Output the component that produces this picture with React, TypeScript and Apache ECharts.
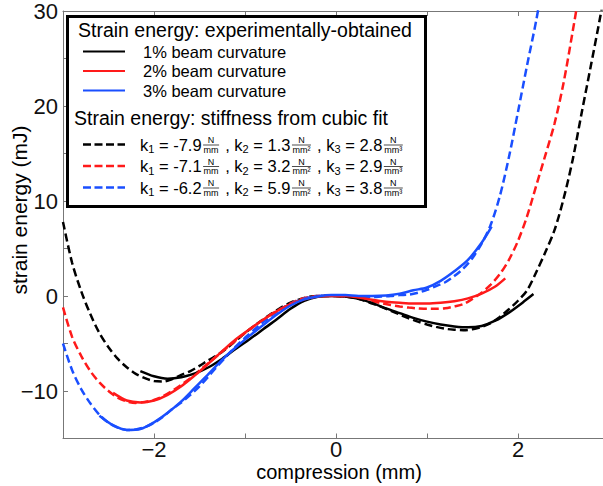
import React, { useEffect, useRef } from 'react';
import * as echarts from 'echarts';

const FF = '"Liberation Sans", Arial, Helvetica, sans-serif';

// experimental curves [compression mm, strain energy mJ]
const exp1: number[][] = [[-2.15,-7.9],[-2.0,-8.45],[-1.85,-8.7],[-1.7,-8.55],[-1.55,-8.15],[-1.4,-7.5],[-1.25,-6.6],[-1.1,-5.55],[-0.95,-4.55],[-0.8,-3.5],[-0.65,-2.45],[-0.5,-1.35],[-0.35,-0.5],[-0.2,-0.08],[-0.05,0],[0.1,-0.05],[0.25,-0.3],[0.4,-0.75],[0.55,-1.3],[0.7,-1.8],[0.85,-2.3],[1.0,-2.7],[1.15,-3.0],[1.3,-3.2],[1.45,-3.3],[1.6,-3.15],[1.75,-2.6],[1.9,-1.75],[2.05,-0.7],[2.17,0.2]];
const exp2: number[][] = [[-2.45,-10.2],[-2.3,-11.0],[-2.15,-11.2],[-2.0,-11.0],[-1.85,-10.4],[-1.7,-9.5],[-1.55,-8.35],[-1.4,-7.1],[-1.25,-5.8],[-1.1,-4.55],[-0.95,-3.5],[-0.8,-2.5],[-0.65,-1.6],[-0.5,-0.85],[-0.35,-0.35],[-0.2,-0.05],[-0.05,0],[0.1,0],[0.25,-0.15],[0.4,-0.4],[0.55,-0.6],[0.7,-0.72],[0.85,-0.8],[1.0,-0.8],[1.15,-0.72],[1.3,-0.55],[1.45,-0.25],[1.6,0.25],[1.75,1.0],[1.86,1.85]];
const exp3: number[][] = [[-2.6,-12.6],[-2.45,-13.6],[-2.3,-14.1],[-2.15,-14.0],[-2.0,-13.3],[-1.85,-12.3],[-1.7,-11.1],[-1.55,-9.65],[-1.4,-8.2],[-1.25,-6.7],[-1.1,-5.4],[-0.95,-4.2],[-0.8,-3.05],[-0.65,-1.95],[-0.5,-1.0],[-0.35,-0.35],[-0.2,-0.05],[-0.05,0.1],[0.1,0.1],[0.25,0.0],[0.4,0.0],[0.55,0.05],[0.7,0.25],[0.85,0.6],[1.0,0.9],[1.15,1.6],[1.3,2.6],[1.45,3.8],[1.6,5.6],[1.71,7.3]];

// cubic-fit curves
const fit1: number[][] = [[-3.0,7.8],[-2.9,3.5],[-2.8,0.5],[-2.7,-1.9],[-2.6,-3.9],[-2.5,-5.4],[-2.4,-6.6],[-2.3,-7.5],[-2.2,-8.2],[-2.1,-8.65],[-2.0,-8.95],[-1.9,-9.0],[-1.8,-8.75],[-1.7,-8.3],[-1.6,-7.9],[-1.5,-7.35],[-1.4,-6.75],[-1.3,-6.2],[-1.2,-5.5],[-1.1,-4.7],[-1.0,-3.9],[-0.9,-3.15],[-0.8,-2.45],[-0.7,-1.8],[-0.6,-1.2],[-0.5,-0.7],[-0.4,-0.35],[-0.3,-0.1],[-0.2,0],[-0.1,0],[0,0],[0.1,-0.05],[0.2,-0.2],[0.3,-0.45],[0.4,-0.8],[0.5,-1.15],[0.6,-1.55],[0.7,-1.95],[0.8,-2.35],[0.9,-2.7],[1.0,-3.0],[1.1,-3.25],[1.2,-3.45],[1.3,-3.55],[1.4,-3.6],[1.5,-3.5],[1.6,-3.25],[1.7,-2.85],[1.8,-2.2],[1.9,-1.4],[2.0,-0.5],[2.1,0.6],[2.2,2.5],[2.3,4.6],[2.4,6.9],[2.5,10.2],[2.6,14.3],[2.7,19.3],[2.8,24.2],[2.9,29.2],[3.0,34.5]];
const fit2: number[][] = [[-3.0,-1.2],[-2.9,-4.3],[-2.8,-6.3],[-2.7,-7.9],[-2.6,-9.1],[-2.5,-10.0],[-2.4,-10.7],[-2.3,-11.1],[-2.2,-11.25],[-2.1,-11.15],[-2.0,-10.95],[-1.9,-10.55],[-1.8,-10.0],[-1.7,-9.35],[-1.6,-8.65],[-1.5,-7.85],[-1.4,-7.05],[-1.3,-6.25],[-1.2,-5.45],[-1.1,-4.65],[-1.0,-3.9],[-0.9,-3.15],[-0.8,-2.5],[-0.7,-1.85],[-0.6,-1.3],[-0.5,-0.8],[-0.4,-0.35],[-0.3,-0.12],[-0.2,0],[-0.1,0.05],[0,0],[0.1,-0.05],[0.2,-0.15],[0.3,-0.35],[0.4,-0.55],[0.5,-0.75],[0.6,-0.95],[0.7,-1.1],[0.8,-1.22],[0.9,-1.3],[1.0,-1.35],[1.1,-1.35],[1.2,-1.3],[1.3,-1.1],[1.4,-0.85],[1.5,-0.3],[1.6,0.35],[1.7,1.2],[1.8,2.3],[1.9,3.8],[2.0,5.8],[2.1,8.4],[2.2,11.6],[2.3,14.8],[2.4,18.1],[2.5,22.4],[2.6,27.8],[2.7,33.5]];
const fit3: number[][] = [[-3.0,-5.0],[-2.9,-7.8],[-2.8,-9.8],[-2.7,-11.3],[-2.6,-12.5],[-2.5,-13.35],[-2.4,-13.85],[-2.3,-14.1],[-2.2,-14.05],[-2.1,-13.8],[-2.0,-13.35],[-1.9,-12.7],[-1.8,-11.9],[-1.7,-11.2],[-1.6,-10.4],[-1.5,-9.5],[-1.4,-8.45],[-1.3,-7.35],[-1.2,-6.3],[-1.1,-5.3],[-1.0,-4.4],[-0.9,-3.55],[-0.8,-2.75],[-0.7,-2.0],[-0.6,-1.35],[-0.5,-0.85],[-0.4,-0.45],[-0.3,-0.15],[-0.2,0],[-0.1,0.05],[0,0.05],[0.1,0],[0.2,-0.05],[0.3,-0.1],[0.4,-0.1],[0.5,-0.05],[0.6,0.0],[0.7,0.1],[0.8,0.15],[0.9,0.35],[1.0,0.65],[1.1,1.05],[1.2,1.45],[1.3,2.1],[1.4,2.9],[1.5,4.0],[1.6,5.5],[1.7,7.5],[1.8,10.5],[1.9,14.6],[2.0,19.4],[2.1,24.3],[2.2,29.0],[2.3,34.5]];

const colors = ['#000000', '#ff1a1a', '#1a4fff'];
const expLabels = ['1% beam curvature', '2% beam curvature', '3% beam curvature'];
const k1Vals = ['-7.9', '-7.1', '-6.2'];
const k2Vals = ['1.3', '3.2', '5.9'];
const k3Vals = ['2.8', '2.9', '3.8'];
const legendTitle1 = 'Strain energy: experimentally-obtained';
const legendTitle2 = 'Strain energy: stiffness from cubic fit';
const xName = 'compression (mm)';
const yName = 'strain energy (mJ)';

const fmtNum = (v: number) => (v < 0 ? '\u2212' + Math.abs(v) : String(v));

let ctx: CanvasRenderingContext2D | null = null;
function measure(s: string, size: number): number {
  if (!ctx) ctx = document.createElement('canvas').getContext('2d');
  if (!ctx) return s.length * size * 0.5;
  ctx.font = `${size}px ${FF}`;
  return ctx.measureText(s).width;
}

function txt(x: number, y: number, text: string, size: number, align = 'left', extra: any = {}) {
  return {
    type: 'text', x, y, z: 11, ...extra,
    style: { text, font: `${size}px ${FF}`, fill: '#000', textAlign: align, textVerticalAlign: 'middle' },
  };
}

function buildLegend(): any[] {
  const els: any[] = [];
  els.push({ type: 'rect', z: 10, shape: { x: 67.5, y: 16.5, width: 358, height: 190 }, style: { fill: '#fff', stroke: '#000', lineWidth: 3 } });
  els.push(txt(78, 30, legendTitle1, 19.5));
  const itemY = [51.5, 71, 90.5];
  expLabels.forEach((lab, i) => {
    els.push({ type: 'line', z: 11, shape: { x1: 83, y1: itemY[i], x2: 125, y2: itemY[i] }, style: { stroke: colors[i], lineWidth: 2 } });
    els.push(txt(143, itemY[i], lab, 16.5));
  });
  els.push(txt(74, 117.5, legendTitle2, 19.5));
  const rowY = [144.5, 166, 187.5];
  const main = 16.5, sub = 11, fr = 9;
  rowY.forEach((y, i) => {
    els.push({ type: 'line', z: 11, shape: { x1: 83, y1: y, x2: 125, y2: y }, style: { stroke: colors[i], lineWidth: 2.5, lineDash: [8, 3.5] } });
    let x = 140;
    const add = (s: string, size: number, yy: number) => { els.push(txt(x, yy, s, size)); x += measure(s, size); };
    const addFrac = (num: string, den: string) => {
      x += 1.5;
      const w = Math.max(measure(num, fr), measure(den, fr)) + 1;
      els.push(txt(x + w / 2, y - 4.5, num, fr, 'center'));
      els.push({ type: 'line', z: 11, shape: { x1: x, y1: y + 0.5, x2: x + w, y2: y + 0.5 }, style: { stroke: '#000', lineWidth: 0.7 } });
      els.push(txt(x + w / 2, y + 5, den, fr, 'center'));
      x += w + 1.5;
    };
    const vals = [k1Vals[i], k2Vals[i], k3Vals[i]];
    const dens = ['mm', 'mm\u00b2', 'mm\u00b3'];
    vals.forEach((v, j) => {
      add(j === 0 ? 'k' : ' , k', main, y);
      add(String(j + 1), sub, y + 4.5);
      add(' = ' + v, main, y);
      addFrac('N', dens[j]);
    });
  });
  return els;
}

export default function App() {
  const ref = useRef<HTMLDivElement>(null);
  useEffect(() => {
    document.body.style.margin = '0';
    if (!ref.current) return;
    const chart = echarts.init(ref.current, null, { renderer: 'svg' });
    const axisLineStyle = { color: '#777', width: 1 };
    const labelStyle = { fontSize: 22, color: '#111', fontFamily: FF };
    const lineSeries = (data: number[][], color: string, dashed: boolean) => ({
      type: 'line', data, showSymbol: false, symbol: 'none', smooth: 0.3, clip: true,
      lineStyle: { color, width: 2.5, type: dashed ? [8, 4] : 'solid' },
      z: dashed ? 2 : 3,
    });
    chart.setOption({
      animation: false,
      grid: { left: 63, right: 3, top: 7.5, bottom: 47.5, containLabel: false },
      xAxis: [
        {
          type: 'value', min: -3, max: 3, interval: 1, position: 'bottom',
          axisLine: { show: true, onZero: false, lineStyle: axisLineStyle },
          axisTick: { show: true, inside: true, length: 5, lineStyle: axisLineStyle },
          axisLabel: { ...labelStyle, margin: 0, formatter: (v: number) => (Math.round(v) % 2 === 0 ? fmtNum(v) : '') },
          splitLine: { show: false },
        },
        {
          type: 'value', min: -3, max: 3, interval: 1, position: 'top',
          axisLine: { show: true, onZero: false, lineStyle: axisLineStyle },
          axisTick: { show: true, inside: true, length: 5, lineStyle: axisLineStyle },
          axisLabel: { show: false }, splitLine: { show: false },
        },
      ],
      yAxis: [
        {
          type: 'value', min: -15, max: 30, interval: 5, position: 'left',
          axisLine: { show: true, onZero: false, lineStyle: axisLineStyle },
          axisTick: { show: true, inside: true, length: 5, lineStyle: axisLineStyle },
          axisLabel: { ...labelStyle, margin: 5, formatter: (v: number) => (Math.round(v) % 10 === 0 ? fmtNum(v) : '') },
          splitLine: { show: false },
        },
        {
          type: 'value', min: -15, max: 30, interval: 5, position: 'right',
          axisLine: { show: true, onZero: false, lineStyle: axisLineStyle },
          axisTick: { show: true, inside: true, length: 5, lineStyle: axisLineStyle },
          axisLabel: { show: false }, splitLine: { show: false },
        },
      ],
      series: [
        lineSeries(fit1, colors[0], true),
        lineSeries(fit2, colors[1], true),
        lineSeries(fit3, colors[2], true),
        lineSeries(exp1, colors[0], false),
        lineSeries(exp2, colors[1], false),
        lineSeries(exp3, colors[2], false),
      ],
      graphic: [
        ...buildLegend(),
        txt(339, 472, xName, 20, 'center'),
        txt(19, 210, yName, 21, 'center', { rotation: Math.PI / 2 }),
      ],
    });
    return () => chart.dispose();
  }, []);
  return (
    <div style={{ position: 'absolute', left: 0, top: 0, width: 603, height: 486, overflow: 'hidden', background: '#fff' }}>
      <div ref={ref} style={{ width: 612, height: 486 }} />
    </div>
  );
}
